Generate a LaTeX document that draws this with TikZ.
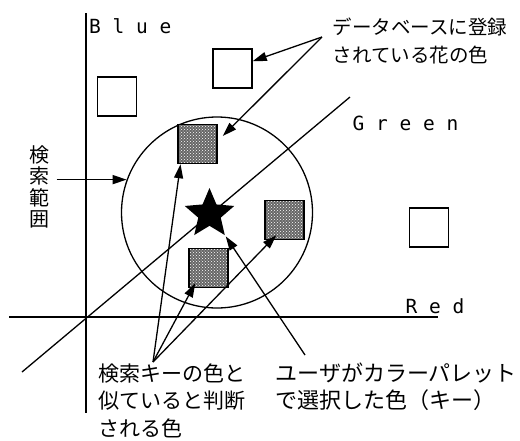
\documentclass[tikz,border=0pt]{standalone}
\usepackage{fontspec}
\usepackage{tikz}
\usetikzlibrary{shapes.geometric}
\usetikzlibrary{arrows.meta}
\usetikzlibrary{patterns}
\usetikzlibrary{calc}
\newfontfamily\jpfont{Noto Sans CJK JP}
\newfontfamily\axfont{DejaVu Sans Mono}

\begin{document}
\begin{tikzpicture}[x=1pt, y=-1pt, >={Triangle[length=14pt, width=9pt]}, line width=1.3pt,
    regsq/.style={draw, line width=1.5pt, minimum size=39pt, inner sep=0pt, fill=white},
    hitsq/.style={draw, line width=1.5pt, minimum size=39pt, inner sep=0pt,
        preaction={fill=black!60}, pattern=crosshatch dots, pattern color=white},
    axlabel/.style={inner sep=0pt, anchor=base west, font=\axfont\fontsize{19.5}{19.5}\selectfont},
    note/.style={inner sep=0pt, anchor=north west, align=left}]

    \useasboundingbox (0,0) rectangle (520,440);

    % Colour axes
    \draw[line width=1.8pt] (86,13) -- (86,413);
    \draw[line width=1.8pt] (9,317) -- (438,317);
    \draw (22,372) -- (350,97);
    \node[axlabel] (blue) at (88.5,33) {B l u e};
    \node[axlabel] (green) at (352,130) {G r e e n};
    \node[axlabel] (red) at (405,313.5) {R e d};

    % Search range and the key colour
    \node[circle, draw, minimum size=191pt, inner sep=0pt] (range) at (217,212.5) {};
    \node[star, star points=5, star point ratio=2.2, fill=black, minimum size=52pt, inner sep=0pt] (key) at (209.5,214) {};

    % Flower colours in the database
    \foreach \i/\x/\y in {1/117/96.5, 2/232.5/68.5, 3/429/227.5} {
        \node[regsq] (w\i) at (\x,\y) {};
    }
    \foreach \i/\x/\y in {1/197.5/144, 2/284.5/220, 3/208.5/268} {
        \node[hitsq] (g\i) at (\x,\y) {};
    }

    % Labels
    \node[note, font=\jpfont\fontsize{19.5}{28.5}\selectfont] (db) at (332,17)
        {データベースに登録\\されている花の色};
    \node[note, anchor=north, align=center, font=\jpfont\fontsize{20}{21.3}\selectfont] (rng) at (39,145)
        {検\\索\\範\\囲};
    \node[note, font=\jpfont\fontsize{21}{27.5}\selectfont] (sim) at (98,363)
        {検索キーの色と\\似ていると判断\\される色};
    \node[note, font=\jpfont\fontsize{22}{27.5}\selectfont] (usr) at (275,362)
        {ユーザがカラーパレット\\で選択した色（キー）};

    \coordinate (dbfoot) at ($(db.north west)+(-10,20)$);
    \coordinate (rngfoot) at ($(rng.east |- range.160)+(7,0)$);
    \coordinate (simtop) at ($(sim.north west)+(55,-1)$);
    \coordinate (usrtop) at ($(usr.north west)+(30,-7)$);

    \draw[->] (dbfoot) -- (w2.20);
    \draw[->] (dbfoot) -- ($(g1.east)+(5,-8)$);
    \draw[->] (rngfoot) -- (range.160);
    \draw[->] (simtop) -- (g1.230);
    \draw[->] (simtop) -- ($(g3.south west)+(7,-5)$);
    \draw[->] (simtop) -- ($(g2.south west)+(12,-5)$);
    \draw[->] (usrtop) -- (key.-54);

\end{tikzpicture}
\end{document}
